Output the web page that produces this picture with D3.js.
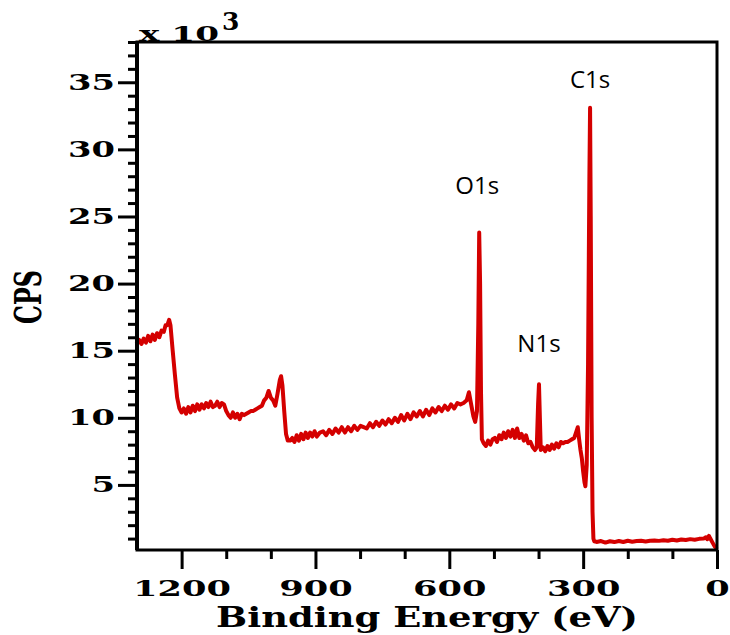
<!DOCTYPE html>
<html>
<head>
<meta charset="utf-8">
<script src="https://cdn.jsdelivr.net/npm/d3@7"></script>
<style>
  body { margin: 0; background: #fff; }
  svg { display: block; }
</style>
</head>
<body>
<div id="chart"></div>
<script>
// ---------- data (binding energy in eV, counts in 10^3 CPS) ----------
const energy = [
  1300, 1295, 1290, 1285, 1280, 1275, 1270, 1265, 1260, 1255, 1250, 1245, 1240, 1236, 1232, 1228, 1225, 1220, 1215, 1210,
  1205, 1200, 1195, 1190, 1185, 1180, 1175, 1170, 1165, 1160, 1155, 1150, 1145, 1140, 1135, 1130, 1125, 1120, 1115, 1110,
  1105, 1100, 1095, 1090, 1085, 1080, 1075, 1070, 1065, 1060, 1055, 1050, 1045, 1040, 1035, 1030, 1025, 1020, 1015, 1010,
  1005, 1000, 995, 990, 985, 980, 977, 974, 970, 966, 962, 957, 952, 947, 942, 937, 932, 927, 922, 917,
  912, 907, 902, 897, 890, 883, 876, 869, 862, 855, 848, 841, 834, 827, 820, 813, 806, 799, 792, 785,
  778, 771, 764, 757, 750, 743, 736, 729, 722, 715, 708, 701, 694, 687, 680, 673, 666, 659, 652, 645,
  638, 631, 624, 617, 610, 603, 596, 589, 582, 575, 568, 561, 556, 551, 546, 542, 538, 535, 533, 531,
  529, 527, 523, 518, 513, 508, 503, 498, 493, 488, 483, 478, 473, 468, 463, 458, 453, 448, 443, 438,
  433, 428, 423, 418, 413, 408, 404, 401, 399, 397, 395, 390, 385, 380, 375, 370, 365, 360, 355, 350,
  345, 340, 335, 330, 325, 320, 316, 312, 309, 306, 303, 300, 297, 295, 292, 289, 286, 284.5, 283, 281,
  279, 277, 275, 270, 260, 250, 240, 230, 220, 210, 200, 190, 180, 170, 160, 150, 140, 130, 120, 110,
  100, 90, 80, 70, 60, 50, 40, 30, 25, 22, 18, 15, 10, 5, 2
];
const cps = [
  15.6, 15.8, 15.5, 15.9, 15.6, 16.1, 15.7, 16.2, 15.8, 16.3, 16.0, 16.5, 16.4, 16.9, 16.9, 17.3, 16.9, 15.0, 13.2, 11.5,
  10.7, 10.4, 10.7, 10.3, 10.8, 10.4, 10.9, 10.5, 11.0, 10.6, 11.0, 10.7, 11.1, 10.8, 11.2, 10.8, 10.9, 11.2, 10.8, 11.1,
  11.0, 10.5, 10.2, 10.0, 10.4, 10.0, 10.3, 9.9, 10.3, 10.2, 10.3, 10.4, 10.5, 10.5, 10.6, 10.7, 10.8, 10.9, 11.3, 11.5,
  12.0, 11.5, 11.3, 10.9, 11.8, 12.8, 13.1, 12.4, 10.5, 8.8, 8.3, 8.3, 8.5, 8.2, 8.7, 8.3, 8.8, 8.4, 8.9, 8.5,
  8.9, 8.6, 9.0, 8.6, 8.9, 9.0, 8.7, 9.1, 8.8, 9.2, 8.9, 9.3, 8.9, 9.3, 9.0, 9.4, 9.1, 9.4, 9.3, 9.2,
  9.6, 9.3, 9.7, 9.4, 9.8, 9.5, 9.9, 9.6, 10.0, 9.7, 10.2, 9.8, 10.3, 9.9, 10.4, 10.1, 10.5, 10.1, 10.6, 10.2,
  10.7, 10.4, 10.8, 10.5, 10.9, 10.6, 11.0, 10.7, 11.1, 11.0, 11.1, 11.3, 11.9, 11.0, 10.1, 9.7, 10.5, 17.0, 23.8, 20.0,
  12.0, 8.4, 8.1, 7.9, 8.3, 8.0, 8.4, 8.5, 8.2, 8.7, 8.4, 8.9, 8.5, 9.0, 8.6, 9.1, 8.5, 9.2, 8.5, 8.8,
  8.3, 8.7, 8.1, 8.2, 7.8, 7.6, 7.8, 11.0, 12.5, 10.0, 7.6, 7.8, 7.5, 7.9, 7.6, 8.0, 7.7, 8.1, 7.8, 8.2,
  8.1, 8.2, 8.2, 8.3, 8.4, 8.5, 8.9, 9.3, 8.4, 7.6, 7.0, 6.0, 5.2, 4.9, 6.5, 14.0, 28.0, 33.1, 25.0, 10.0,
  3.0, 1.0, 0.8, 0.75, 0.82, 0.7, 0.8, 0.74, 0.82, 0.75, 0.84, 0.77, 0.82, 0.84, 0.79, 0.84, 0.85, 0.83, 0.88, 0.84,
  0.91, 0.86, 0.93, 0.89, 0.96, 0.92, 0.98, 1.0, 1.1, 0.95, 1.2, 1.0, 0.7, 0.4, 0.3
];

const xMajor = [1200, 900, 600, 300, 0];
const xMinor = [1100, 1000, 800, 700, 500, 400, 200, 100];
const yMajor = [5, 10, 15, 20, 25, 30, 35];
const yMinor = d3.range(1, 39).filter(d => d % 5 !== 0);

const peakNames = ['C1s', 'O1s', 'N1s'];
const peakEnergy = [284.5, 533, 399];
const peakTop = [33.1, 23.8, 12.5];

// ---------- layout ----------
const width = 730;
const height = 635;
const margin = { left: 137, right: 13, top: 42, bottom: 85 };
const lineColor = '#d40000';
const serif = '"DejaVu Serif", "Liberation Serif", serif';

const svg = d3.select('#chart').append('svg')
  .attr('width', width)
  .attr('height', height);

const x = d3.scaleLinear()
  .domain([1300, 0])
  .range([margin.left, width - margin.right]);

const y = d3.scaleLinear()
  .domain([0.15, 38])
  .range([height - margin.bottom, margin.top]);

const data = energy.map((e, i) => ({ e, v: cps[i] }));

// ---------- spectrum ----------
const line = d3.line()
  .x(d => x(d.e))
  .y(d => y(d.v));

svg.append('path')
  .datum(data)
  .attr('d', line)
  .attr('fill', 'none')
  .attr('stroke', lineColor)
  .attr('stroke-width', 4)
  .attr('stroke-linejoin', 'round')
  .attr('stroke-linecap', 'round');

// ---------- axes ----------
const yAxis = svg.append('g').attr('transform', `translate(${margin.left},0)`);
yAxis.call(d3.axisLeft(y).tickValues(yMinor).tickSize(9).tickFormat(''));
yAxis.append('g').call(d3.axisLeft(y).tickValues(yMajor).tickSize(19).tickPadding(3));

const xAxis = svg.append('g').attr('transform', `translate(0,${height - margin.bottom})`);
xAxis.call(d3.axisBottom(x).tickValues(xMinor).tickSize(9).tickFormat(''));
xAxis.append('g').call(d3.axisBottom(x).tickValues(xMajor).tickSize(19).tickPadding(14).tickFormat(d3.format('d')));

svg.selectAll('.domain').remove();
svg.selectAll('.tick line').attr('stroke', '#000').attr('stroke-width', 3);

yAxis.selectAll('.tick text')
  .attr('font-family', serif)
  .attr('font-weight', 'bold')
  .attr('font-size', 23)
  .attr('fill', '#000')
  .attr('dy', '0.3em')
  .attr('textLength', function () { return this.textContent.length * 23.5; })
  .attr('lengthAdjust', 'spacingAndGlyphs');

xAxis.selectAll('.tick text')
  .attr('font-family', serif)
  .attr('font-weight', 'bold')
  .attr('font-size', 23)
  .attr('fill', '#000')
  .attr('dy', '0.55em')
  .attr('textLength', function () { return this.textContent.length * 24.5; })
  .attr('lengthAdjust', 'spacingAndGlyphs');

// frame
svg.append('rect')
  .attr('x', margin.left)
  .attr('y', margin.top)
  .attr('width', width - margin.left - margin.right)
  .attr('height', height - margin.top - margin.bottom)
  .attr('fill', 'none')
  .attr('stroke', '#000')
  .attr('stroke-width', 3);
svg.append('line')
  .attr('x1', margin.left).attr('x2', margin.left)
  .attr('y1', margin.top).attr('y2', height - margin.bottom)
  .attr('stroke', '#000')
  .attr('stroke-width', 4);

// ---------- axis titles ----------
svg.append('text')
  .attr('x', 427)
  .attr('y', 627)
  .attr('text-anchor', 'middle')
  .attr('font-family', serif)
  .attr('font-weight', 'bold')
  .attr('font-size', 27)
  .attr('textLength', 422)
  .attr('lengthAdjust', 'spacingAndGlyphs')
  .text('Binding Energy (eV)');

svg.append('text')
  .attr('transform', 'translate(41,297) rotate(-90)')
  .attr('text-anchor', 'middle')
  .attr('font-family', serif)
  .attr('font-weight', 'bold')
  .attr('font-size', 38)
  .attr('textLength', 54)
  .attr('lengthAdjust', 'spacingAndGlyphs')
  .text('CPS');

// x 10^3 multiplier (drawn over the frame, like the original)
const mult = svg.append('text')
  .attr('x', 139)
  .attr('y', 41)
  .attr('font-family', serif)
  .attr('font-weight', 'bold')
  .attr('font-size', 21);
mult.append('tspan').attr('textLength', 80).attr('lengthAdjust', 'spacingAndGlyphs').text('x 10');
mult.append('tspan').attr('x', 222).attr('y', 30).attr('font-size', 25).text('3');

// ---------- peak labels ----------
svg.append('g').selectAll('text')
  .data(peakNames)
  .join('text')
  .attr('x', (d, i) => x(peakEnergy[i]) + (i === 1 ? -2 : 0))
  .attr('y', (d, i) => y(peakTop[i]) - [20, 39, 32][i])
  .attr('text-anchor', 'middle')
  .attr('font-family', '"Open Sans", "Noto Sans", sans-serif')
  .attr('font-size', 24)
  .attr('fill', '#000')
  .text(d => d);
</script>
</body>
</html>
